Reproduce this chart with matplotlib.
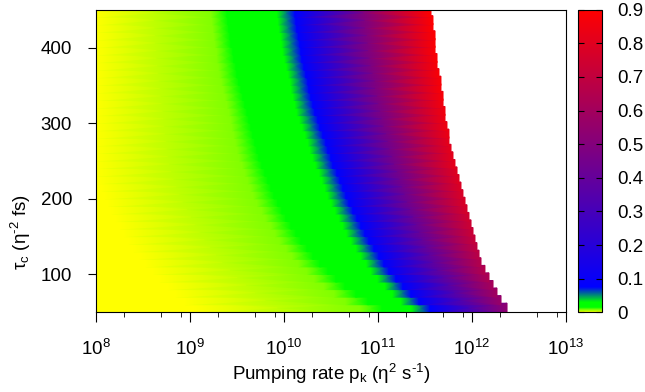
import numpy as np
import matplotlib
matplotlib.use('Agg')
import matplotlib.pyplot as plt
from matplotlib.colors import LinearSegmentedColormap, Normalize
from matplotlib.ticker import LogLocator, MultipleLocator, NullFormatter

# =============================================================================
# Data (one entry per tau_c row, bottom to top)
# positions are log10 of the pumping rate
# =============================================================================
tau_c = list(range(55, 450, 10))

# where the pure yellow ends
yellow_end = [9.056, 8.950, 8.854, 8.769, 8.684, 8.610, 8.535, 8.471, 8.407, 8.354,
              8.301, 8.259, 8.216, 8.173, 8.131, 8.099, 8.067, 8.035, 8.014, 8.003,
              8.0, 8.0, 8.0, 8.0, 8.0, 8.0, 8.0, 8.0, 8.0, 8.0,
              8.0, 8.0, 8.0, 8.0, 8.0, 8.0, 8.0, 8.0, 8.0, 8.0]
# yellow-green half way point
yg_mid = [10.81, 10.66, 10.54, 10.43, 10.33, 10.25, 10.16, 10.09, 10.03, 9.96,
          9.91, 9.86, 9.81, 9.77, 9.72, 9.68, 9.65, 9.62, 9.59, 9.56,
          9.53, 9.51, 9.49, 9.47, 9.45, 9.44, 9.42, 9.40, 9.38, 9.36,
          9.34, 9.32, 9.31, 9.29, 9.29, 9.27, 9.26, 9.25, 9.24, 9.23]
# pure green band
green_start = [11.046, 10.897, 10.769, 10.652, 10.556, 10.471, 10.386, 10.312, 10.248, 10.184,
               10.131, 10.078, 10.024, 9.982, 9.939, 9.897, 9.865, 9.833, 9.801, 9.769,
               9.737, 9.716, 9.695, 9.673, 9.652, 9.631, 9.610, 9.588, 9.567, 9.546,
               9.524, 9.503, 9.493, 9.471, 9.461, 9.439, 9.429, 9.418, 9.407, 9.397]
green_end = [11.36, 11.25, 11.16, 11.08, 11.00, 10.93, 10.88, 10.82, 10.77, 10.72,
             10.67, 10.63, 10.59, 10.55, 10.51, 10.47, 10.44, 10.41, 10.38, 10.34,
             10.31, 10.28, 10.26, 10.23, 10.20, 10.17, 10.14, 10.12, 10.10, 10.08,
             10.07, 10.05, 10.03, 10.01, 9.99, 9.98, 9.97, 9.95, 9.94, 9.93]
# pure blue
blue_start = [11.556, 11.439, 11.354, 11.269, 11.195, 11.120, 11.067, 11.014, 10.961, 10.907,
              10.865, 10.822, 10.780, 10.737, 10.695, 10.663, 10.631, 10.599, 10.567, 10.524,
              10.503, 10.471, 10.450, 10.418, 10.386, 10.365, 10.333, 10.312, 10.290, 10.269,
              10.259, 10.237, 10.216, 10.195, 10.184, 10.173, 10.157, 10.141, 10.131, 10.120]
# last pumping rate with a solution, and the value there
edge = [12.376, 12.312, 12.269, 12.227, 12.184, 12.141, 12.099, 12.078, 12.056, 12.035,
        12.014, 11.993, 11.971, 11.950, 11.929, 11.907, 11.886, 11.865, 11.844, 11.822,
        11.801, 11.780, 11.758, 11.758, 11.737, 11.716, 11.716, 11.695, 11.695, 11.673,
        11.673, 11.652, 11.631, 11.631, 11.610, 11.610, 11.610, 11.588, 11.588, 11.567]
v_edge = [0.54, 0.57, 0.60, 0.62, 0.64, 0.66, 0.66, 0.68, 0.70, 0.72,
          0.73, 0.74, 0.75, 0.77, 0.78, 0.78, 0.79, 0.80, 0.80, 0.82,
          0.82, 0.82, 0.82, 0.84, 0.85, 0.85, 0.86, 0.86, 0.88, 0.88,
          0.88, 0.88, 0.88, 0.89, 0.89, 0.89, 0.90, 0.90, 0.90, 0.90]

knot_values = [0, 0, 0.0075, 0.015, 0.03, 0.075]
cbar_ticks = [0, 0.1, 0.2, 0.3, 0.4, 0.5, 0.6, 0.7, 0.8, 0.9]
cbar_labels = ['0', '0.1', '0.2', '0.3', '0.4', '0.5', '0.6', '0.7', '0.8', '0.9']

# =============================================================================
# Style
# =============================================================================
plt.rcParams['font.family'] = 'Liberation Sans'
plt.rcParams['mathtext.fontset'] = 'custom'
plt.rcParams['mathtext.rm'] = 'Liberation Sans'
plt.rcParams['mathtext.it'] = 'Liberation Sans:italic'
plt.rcParams['mathtext.default'] = 'regular'

vmax = 0.9
cmap = LinearSegmentedColormap.from_list('pump', [(0, 'yellow'), (0.0075/vmax, (0.5, 1, 0)),
                                                  (0.015/vmax, 'lime'), (0.03/vmax, 'lime'),
                                                  (0.075/vmax, 'blue'), (1, 'red')], N=2048)
norm = Normalize(0, vmax)

fig = plt.figure(figsize=(6.45, 3.92), dpi=100)
ax = fig.add_axes([95.7/645, 1-312.3/392, 470/645, 302.6/392])
cax = fig.add_axes([578/645, 1-312.3/392, 24/645, 302.6/392])

ax.set_xscale('log')
# one gouraud strip per row, drawn bottom up, each a bit taller so no seams show
for i in range(len(tau_c)):
    lp = [8.0, yellow_end[i], yg_mid[i], green_start[i], green_end[i], blue_start[i], edge[i]]
    vals = knot_values + [v_edge[i]]
    X = np.power(10.0, [lp, lp])
    Y = [[tau_c[i] - 5]*len(lp), [tau_c[i] + 7]*len(lp)]
    ax.pcolormesh(X, Y, [vals, vals], cmap=cmap, norm=norm, shading='gouraud')

ax.set_xlim(1e8, 1e13)
ax.set_ylim(50, 450)
ax.xaxis.set_minor_locator(LogLocator(base=10, subs=[2, 5, 8]))
ax.xaxis.set_minor_formatter(NullFormatter())
ax.yaxis.set_major_locator(MultipleLocator(100))
ax.tick_params(which='both', direction='out', top=False, right=False, labelsize=13.5)
ax.tick_params(axis='x', which='major', length=7, pad=12)
ax.tick_params(axis='x', which='minor', length=3.5)
ax.tick_params(axis='y', which='major', length=6, pad=11)

ax.set_xlabel('Pumping rate p$_\\mathrm{k}$ (η$^2$ s$^{\\text{-}1}$)', fontsize=13.5)
ax.set_ylabel('τ$_\\mathrm{c}$ (η$^{\\text{-}2}$ fs)', fontsize=13.5)
ax.xaxis.set_label_coords(0.5, -0.165)
ax.yaxis.set_label_coords(-0.133, 0.265)

sm = plt.cm.ScalarMappable(norm=norm, cmap=cmap)
cb = fig.colorbar(sm, cax=cax, ticks=cbar_ticks)
cb.ax.set_yticklabels(cbar_labels)
cb.ax.tick_params(direction='in', left=True, right=True, length=4, labelsize=13.5, pad=11)

fig.savefig('out.png', dpi=100)
